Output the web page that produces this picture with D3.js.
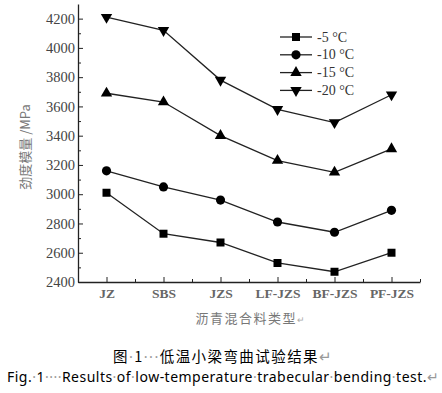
<!DOCTYPE html>
<html>
<head>
<meta charset="utf-8">
<script src="https://cdn.jsdelivr.net/npm/d3@7/dist/d3.min.js"></script>
<style>
  body { margin: 0; background: #fff; }
  svg { display: block; }
  .serif { font-family: "Liberation Serif", "Times New Roman", "DejaVu Serif", serif; }
</style>
</head>
<body>
<div id="chart"></div>
<script>
// mixture types on the x axis
var categories = ["JZ", "SBS", "JZS", "LF-JZS", "BF-JZS", "PF-JZS"];

// stiffness modulus (MPa) per temperature
var seriesNames = ["-5 °C", "-10 °C", "-15 °C", "-20 °C"];
var minus5 = [3010, 2730, 2670, 2530, 2470, 2600];
var minus10 = [3160, 3050, 2960, 2810, 2740, 2890];
var minus15 = [3690, 3630, 3400, 3230, 3150, 3310];
var minus20 = [4210, 4120, 3780, 3580, 3490, 3680];

var yTicks = [2400, 2600, 2800, 3000, 3200, 3400, 3600, 3800, 4000, 4200];
var yMinorTicks = [2500, 2700, 2900, 3100, 3300, 3500, 3700, 3900, 4100];

var series = [minus5, minus10, minus15, minus20];

var W = 442, H = 393;
var margin = { top: 4, right: 22, bottom: 111, left: 78 };

var svg = d3.select("#chart")
    .append("svg")
    .attr("width", W)
    .attr("height", H)
    .style("background", "#fff");

// scales
var x = d3.scaleLinear()
    .domain([-0.5, categories.length - 0.5])
    .range([margin.left, W - margin.right]);

var y = d3.scaleLinear()
    .domain([2400, 4300])
    .range([H - margin.bottom, margin.top]);

// y axis (ticks pointing inward)
var yAxis = svg.append("g")
    .attr("transform", "translate(" + margin.left + ",0)")
    .call(d3.axisLeft(y)
        .tickValues(yTicks)
        .tickSizeInner(-5)
        .tickSizeOuter(0)
        .tickPadding(3)
        .tickFormat(d3.format("d")));
yAxis.attr("font-family", null).attr("font-size", null);
yAxis.selectAll("text")
    .attr("class", "serif")
    .style("font-size", "14.5px")
    .attr("fill", "#444");

svg.append("g")
    .attr("transform", "translate(" + margin.left + ",0)")
    .call(d3.axisLeft(y)
        .tickValues(yMinorTicks)
        .tickSizeInner(-3)
        .tickSizeOuter(0)
        .tickFormat(""))
    .select(".domain").remove();

// x axis
var xAxis = svg.append("g")
    .attr("transform", "translate(0," + (H - margin.bottom) + ")")
    .call(d3.axisBottom(x)
        .tickValues(d3.range(categories.length))
        .tickSizeInner(-5)
        .tickSizeOuter(0)
        .tickPadding(6)
        .tickFormat(function(d) { return categories[d]; }));
xAxis.attr("font-family", null).attr("font-size", null);
xAxis.selectAll("text")
    .attr("class", "serif")
    .style("font-size", "13.5px")
    .style("font-weight", "bold")
    .attr("fill", "#666");

svg.append("g")
    .attr("transform", "translate(0," + (H - margin.bottom) + ")")
    .call(d3.axisBottom(x)
        .tickValues(d3.range(categories.length).map(function(d) { return d + 0.5; }))
        .tickSizeInner(-3)
        .tickSizeOuter(0)
        .tickFormat(""))
    .select(".domain").remove();

svg.selectAll(".domain").attr("stroke", "#222").attr("stroke-width", 1.3);
svg.selectAll(".tick line").attr("stroke", "#222");

// markers
var symbols = [
    { type: d3.symbolSquare, size: 64, rot: 0 },
    { type: d3.symbolCircle, size: 66, rot: 0 },
    { type: d3.symbolTriangle, size: 56, rot: 0 },
    { type: d3.symbolTriangle, size: 56, rot: 180 }
];

var line = d3.line()
    .x(function(d, i) { return x(i); })
    .y(function(d) { return y(d); });

series.forEach(function(vals, s) {
    svg.append("path")
        .datum(vals)
        .attr("d", line)
        .attr("fill", "none")
        .attr("stroke", "#222")
        .attr("stroke-width", 1.3);

    svg.append("g")
        .selectAll("path")
        .data(vals)
        .enter()
        .append("path")
        .attr("d", d3.symbol().type(symbols[s].type).size(symbols[s].size))
        .attr("transform", function(d, i) {
            return "translate(" + x(i) + "," + y(d) + ") rotate(" + symbols[s].rot + ")";
        })
        .attr("fill", "#000");
});

// legend
var legend = svg.append("g").attr("transform", "translate(280,37)");
seriesNames.forEach(function(name, s) {
    var g = legend.append("g").attr("transform", "translate(0," + (s * 17.8) + ")");
    g.append("line")
        .attr("x1", 0).attr("x2", 32)
        .attr("stroke", "#222").attr("stroke-width", 1.3);
    g.append("path")
        .attr("d", d3.symbol().type(symbols[s].type).size(symbols[s].size))
        .attr("transform", "translate(16,0) rotate(" + symbols[s].rot + ")")
        .attr("fill", "#000");
    g.append("text")
        .attr("x", 37)
        .attr("y", 4.5)
        .attr("class", "serif")
        .style("font-size", "14px")
        .attr("fill", "#333")
        .text(name);
});

// axis titles
svg.append("text")
    .attr("transform", "translate(30,147) rotate(-90)")
    .attr("text-anchor", "middle")
    .style("font-family", "'Noto Sans CJK SC', sans-serif")
    .style("font-size", "13px")
    .attr("fill", "#777")
    .text("劲度模量 /MPa");

var xTitle = svg.append("text")
    .attr("x", 251)
    .attr("y", 323)
    .attr("text-anchor", "middle")
    .style("font-family", "'Noto Sans CJK SC', sans-serif")
    .style("font-size", "13px")
    .style("letter-spacing", "1.5px")
    .attr("fill", "#777");
xTitle.append("tspan").text("沥青混合料类型");
xTitle.append("tspan").attr("fill", "#aaa").style("font-size", "9px").text("↵");

// caption, with word-processor space marks
function caption(yPos, xPos, len, font, size, parts) {
    var t = svg.append("text")
        .attr("x", xPos)
        .attr("y", yPos)
        .attr("textLength", len)
        .attr("lengthAdjust", "spacing")
        .style("font-family", font)
        .style("font-size", size + "px")
        .attr("fill", "#000");
    parts.forEach(function(p) {
        var sp = t.append("tspan").text(p[0]);
        if (p[1]) sp.attr("fill", "#999").style("font-family", "'Noto Sans', sans-serif");
    });
}

caption(362, 113, 219, "'Noto Sans CJK SC', sans-serif", 14.5, [
    ["图"], ["·", 1], ["1"], ["···", 1], ["低温小梁弯曲试验结果"], ["↵", 1]
]);

caption(382, 7, 432, "'Noto Sans', 'Open Sans', sans-serif", 14, [
    ["Fig."], ["·", 1], ["1"], ["····", 1], ["Results"], ["·", 1], ["of"], ["·", 1],
    ["low-temperature"], ["·", 1], ["trabecular"], ["·", 1], ["bending"], ["·", 1],
    ["test."], ["↵", 1]
]);
</script>
</body>
</html>
